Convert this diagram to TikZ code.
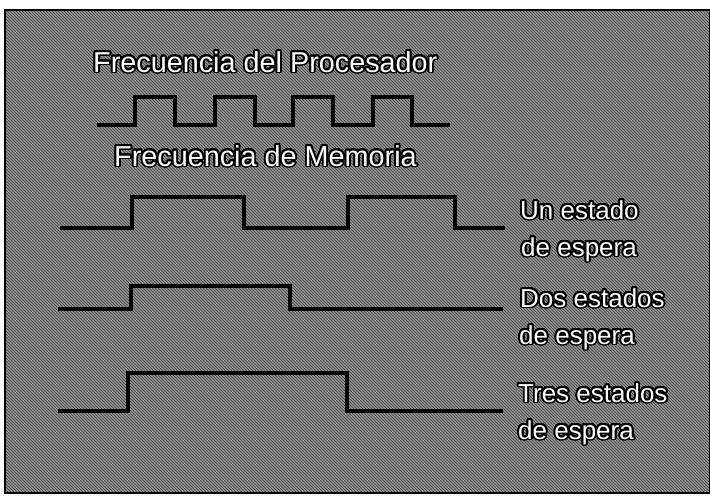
\documentclass[tikz,border=0pt]{standalone}
\usepackage{fontspec}
\setmainfont{Liberation Sans}
\usepackage{contour}
\contourlength{1.8pt}
\contournumber{24}
\usetikzlibrary{patterns}
\begin{document}
\begin{tikzpicture}[x=1pt,y=-1pt,
  wave/.style={line width=4.5pt, black, line join=miter, line cap=butt},
  ttl/.style={anchor=base west, inner sep=0pt, font=\fontsize{28.8}{30}\selectfont, text=white},
  lbl/.style={anchor=base west, inner sep=0pt, font=\fontsize{26}{28}\selectfont, text=white}]
\useasboundingbox (0,0) rectangle (710,499);
\fill[white] (0,0) rectangle (710,499);
\fill[black!42] (5,10) rectangle (710,493);
\fill[pattern=north west lines, pattern color=black!75] (5,10) rectangle (710,493);
\draw[black, line width=1.5pt] (5,10) rectangle (710,493);

% titles
\node[ttl] (tproc) at (93,72) {\contour{black}{Frecuencia del Procesador}};
\node[ttl] (tmem) at (114,166) {\contour{black}{Frecuencia de Memoria}};

% processor clock
\draw[wave] (97,125) -- (135,125) -- (135,97) -- (175,97) -- (175,125) -- (215,125) -- (215,97) -- (255,97) -- (255,125) -- (293,125) -- (293,97) -- (333,97) -- (333,125) -- (373,125) -- (373,97) -- (412,97) -- (412,125) -- (450,125);

% one wait state
\draw[wave] (60,228) -- (132,228) -- (132,197) -- (244,197) -- (244,228) -- (348,228) -- (348,197) -- (455,197) -- (455,228) -- (505,228);
% two wait states
\draw[wave] (58,309) -- (131,309) -- (131,286) -- (290,286) -- (290,309) -- (503,309);
% three wait states
\draw[wave] (58,411) -- (128,411) -- (128,373) -- (347,373) -- (347,411) -- (503,411);

% labels
\node[lbl] (l1a) at (520,219) {\contour{black}{Un estado}};
\node[lbl] (l1b) at (521,256) {\contour{black}{de espera}};
\node[lbl] (l2a) at (520,307) {\contour{black}{Dos estados}};
\node[lbl] (l2b) at (519,344) {\contour{black}{de espera}};
\node[lbl] (l3a) at (518,402) {\contour{black}{Tres estados}};
\node[lbl] (l3b) at (518,439) {\contour{black}{de espera}};
\end{tikzpicture}
\end{document}
